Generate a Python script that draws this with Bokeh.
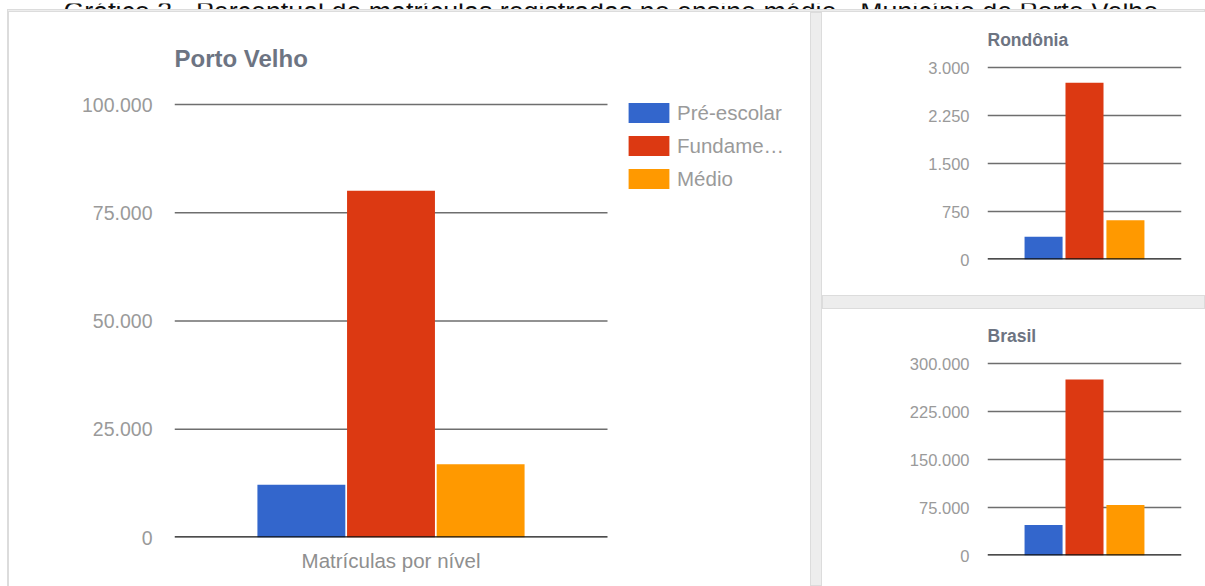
from bokeh.plotting import figure
from bokeh.models import FactorRange, Range1d, FixedTicker, Legend, LegendItem, Spacer, ColumnDataSource, Span
from bokeh.layouts import row, column
from bokeh.transform import dodge
from bokeh.core.properties import value
from bokeh.embed import file_html
from bokeh.resources import INLINE

# ---------------- data ----------------
caption = "Gráfico 3 - Percentual de matrículas registradas no ensino médio - Município de Porto Velho."
category = "Matrículas por nível"
series = ["Pré-escolar", "Fundamental", "Médio"]
legend_labels = ["Pré-escolar", "Fundame…", "Médio"]
colors = ["#3366cc", "#dc3912", "#ff9900"]

porto_velho = [12200, 80100, 16900]
rondonia = [355, 2760, 612]
brasil = [47500, 275000, 79000]

pv_ticks = [0, 25000, 50000, 75000, 100000]
pv_tick_labels = ["0", "25.000", "50.000", "75.000", "100.000"]
ro_ticks = [0, 750, 1500, 2250, 3000]
ro_tick_labels = ["0", "750", "1.500", "2.250", "3.000"]
br_ticks = [0, 75000, 150000, 225000, 300000]
br_tick_labels = ["0", "75.000", "150.000", "225.000", "300.000"]

FONT = "Liberation Sans"
LABEL_COLOR = "#9a9a9a"
TITLE_COLOR = "#6d7482"
GRID_COLOR = "#6e6e6e"
BASE_COLOR = "#111111"
BAND = "#ededed"
BAND_EDGE = "#dcdcdc"
PAD = 3  # extra pixels above the top grid line so that it is not clipped


def style_common(p, title, title_size, title_standoff, ticks, tick_labels, tick_size, tick_standoff):
    p.title.text = title
    p.title.text_font = FONT
    p.title.text_font_size = title_size
    p.title.text_font_style = "bold"
    p.title.text_color = TITLE_COLOR
    p.title.align = "left"
    p.title.standoff = title_standoff

    yax = p.yaxis[0]
    yax.ticker = FixedTicker(ticks=ticks)
    yax.major_label_overrides = {t: l for t, l in zip(ticks, tick_labels)}
    yax.axis_line_color = None
    yax.major_tick_line_color = None
    yax.minor_tick_line_color = None
    yax.major_label_text_font = FONT
    yax.major_label_text_font_size = tick_size
    yax.major_label_text_color = LABEL_COLOR
    yax.major_label_standoff = tick_standoff

    xax = p.xaxis[0]
    xax.axis_line_color = None
    xax.major_tick_line_color = None
    xax.minor_tick_line_color = None


# ---------------- Porto Velho (main chart) ----------------
PV_W, PV_H = 801, 574
PV_LEFT, PV_TOP, PV_BOTTOM = 165, 92, 49
PV_PLOT_W = 433          # width of the category area (grid lines)
PV_FRAME_W = PV_W - PV_LEFT
pv_frame_h = PV_H - PV_TOP - PV_BOTTOM
pv = figure(width=PV_W, height=PV_H,
            x_range=Range1d(0, PV_FRAME_W / PV_PLOT_W),
            y_range=Range1d(0, pv_ticks[-1] * (pv_frame_h + PAD) / pv_frame_h),
            output_backend="svg", toolbar_location=None,
            min_border_left=PV_LEFT, min_border_right=0,
            min_border_top=PV_TOP - PAD, min_border_bottom=PV_BOTTOM,
            background_fill_color="white", border_fill_color="white",
            outline_line_color=None)
style_common(pv, "Porto Velho", "24px", 60, pv_ticks, pv_tick_labels, "19.5px", 16)
pv.grid.visible = False

# grid lines limited to the category area [0, 1]
grid_y = pv_ticks[1:]
pv.segment(x0=[0] * len(grid_y), x1=[1] * len(grid_y), y0=grid_y, y1=grid_y,
           line_color=GRID_COLOR, line_width=1.6)

pv_off, pv_bw = 0.207, 0.203
pv_r = []
for i, val in enumerate(porto_velho):
    src = ColumnDataSource(dict(x=[0.5 + (i - 1) * pv_off], top=[val]))
    pv_r.append(pv.vbar(x="x", top="top", width=pv_bw, source=src,
                        fill_color=colors[i], line_color=None))

pv.segment(x0=[0], x1=[1], y0=[pv_ticks[0]], y1=[pv_ticks[0]],
           line_color=BASE_COLOR, line_width=2.5)

xax = pv.xaxis[0]
xax.ticker = FixedTicker(ticks=[0.5])
xax.major_label_overrides = {0.5: category}
xax.major_label_text_font = FONT
xax.major_label_text_font_size = "20.5px"
xax.major_label_text_color = "#8f8f8f"
xax.major_label_standoff = 5

legend = Legend(items=[LegendItem(label=l, renderers=[r]) for l, r in zip(legend_labels, pv_r)],
                location=(449, 346), glyph_width=51, glyph_height=25, label_standoff=3,
                spacing=8, padding=0, margin=0, border_line_color=None,
                background_fill_alpha=0, label_text_font=FONT, label_text_font_size="20.5px",
                label_text_color=LABEL_COLOR, label_height=20)
pv.add_layout(legend, "center")


# ---------------- small charts ----------------
def make_small(title, values, ticks, tick_labels, width, height, borders,
               bar_width, bar_offset):
    left, right, top, bottom = borders
    frame_h = height - top - bottom
    p = figure(width=width, height=height, x_range=FactorRange(category),
               y_range=Range1d(ticks[0], ticks[-1] * (frame_h + PAD) / frame_h),
               output_backend="svg", toolbar_location=None,
               min_border_left=left, min_border_right=right,
               min_border_top=top - PAD, min_border_bottom=bottom,
               background_fill_color="white", border_fill_color="white",
               outline_line_color=None)
    style_common(p, title, "17.5px", 29, ticks, tick_labels, "16.5px", 12)
    for i, val in enumerate(values):
        src = ColumnDataSource(dict(cat=[category], val=[val]))
        p.vbar(x=dodge("cat", (i - 1) * bar_offset, range=p.x_range), top="val",
               width=bar_width, source=src, fill_color=colors[i], line_color=None)
    p.ygrid.ticker = FixedTicker(ticks=ticks[1:])
    p.ygrid.grid_line_color = GRID_COLOR
    p.ygrid.grid_line_width = 1.6
    p.xgrid.grid_line_color = None
    p.add_layout(Span(location=ticks[0], dimension="width", line_color=BASE_COLOR, line_width=2.5))
    p.xaxis.visible = False
    return p


ro = make_small("Rondônia", rondonia, ro_ticks, ro_tick_labels,
                383, 283, (165, 24, 55, 36), 0.196, 0.211)
br = make_small("Brasil", brasil, br_ticks, br_tick_labels,
                383, 277, (165, 24, 54, 31), 0.196, 0.211)

# ---------------- caption strip (cut by the top of the window) ----------------
cap = figure(width=1205, height=9, x_range=Range1d(0, 1205), y_range=Range1d(0, 9),
             output_backend="svg", toolbar_location=None, min_border=0,
             outline_line_color=None, background_fill_color="white", border_fill_color="white")
cap.axis.visible = False
cap.grid.visible = False
cap.text(x=[614], y=[1], text=[caption], text_font=value(FONT), text_font_size="26.8px",
         text_align="center", text_baseline="alphabetic", text_color="#111111")


def band(w, h):
    return Spacer(width=w, height=h, styles={"background-color": BAND,
                                             "box-shadow": f"inset 0 0 0 1px {BAND_EDGE}"})


right_col = column(ro, band(383, 14), br)
main_row = row(band(2, 574), pv, band(12, 574), right_col)
inner = column(band(1198, 3), main_row)
body = row(Spacer(width=7, height=577), inner)
root = column(cap, body)

open("out.html", "w").write(file_html(root, INLINE))
